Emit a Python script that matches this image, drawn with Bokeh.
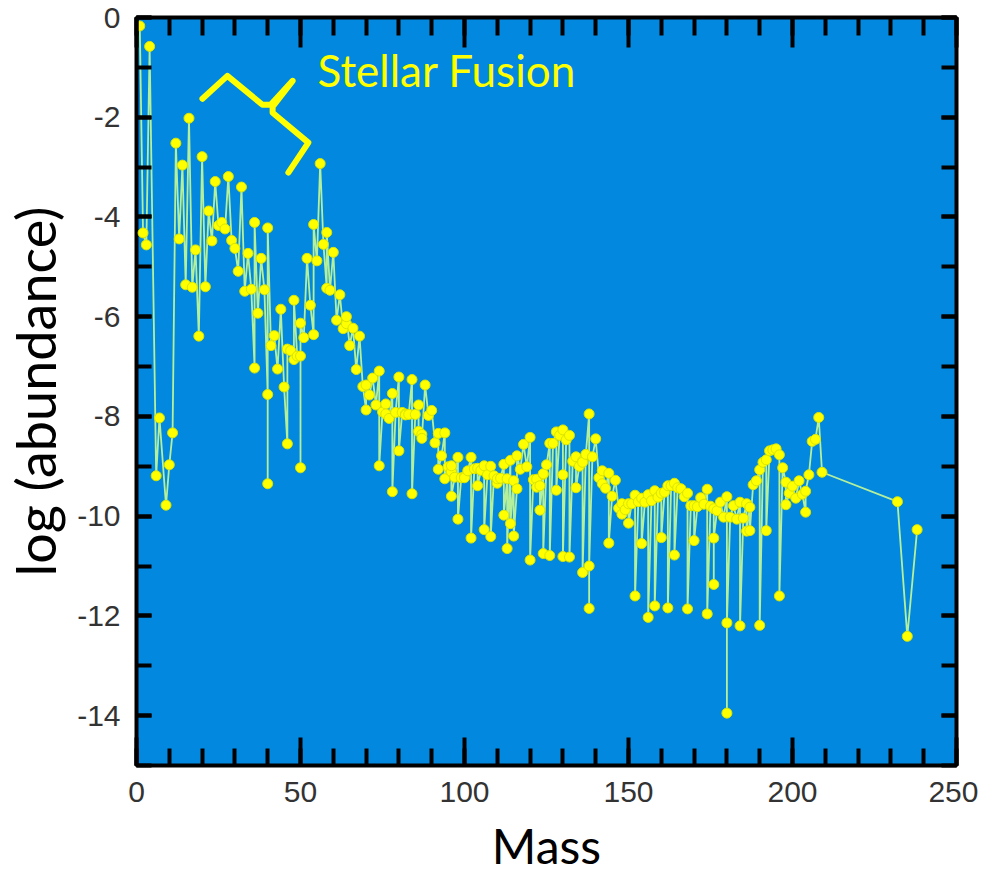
from bokeh.plotting import figure
from bokeh.models import LinearAxis, SingleIntervalTicker, Label, Range1d
from bokeh.embed import file_html
from bokeh.resources import INLINE

# mass number of each isotope (sorted by mass, isobars in element order)
mass = [1, 2, 3, 4, 6, 7, 9, 10, 11, 12, 13, 14, 15, 16, 17, 18, 19, 20, 21, 22,
        23, 24, 25, 26, 27, 28, 29, 30, 31, 32, 33, 34, 35, 36, 36, 37, 38, 39, 40, 40,
        40, 41, 42, 43, 44, 45, 46, 46, 47, 48, 48, 49, 50, 50, 50, 51, 52, 53, 54, 54,
        55, 56, 57, 58, 58, 59, 60, 61, 62, 63, 64, 64, 65, 66, 67, 68, 69, 70, 70, 71,
        72, 73, 74, 74, 75, 76, 76, 77, 78, 78, 79, 80, 80, 81, 82, 82, 83, 84, 84, 85,
        86, 86, 87, 87, 88, 89, 90, 91, 92, 92, 93, 94, 94, 95, 96, 96, 96, 97, 98, 98,
        99, 100, 100, 101, 102, 102, 103, 104, 104, 105, 106, 106, 107, 108, 108, 109, 110, 110, 111, 112,
        112, 113, 113, 114, 114, 115, 115, 116, 116, 117, 118, 119, 120, 120, 121, 122, 122, 123, 123, 124,
        124, 124, 125, 126, 126, 127, 128, 128, 129, 130, 130, 130, 131, 132, 132, 133, 134, 134, 135, 136,
        136, 136, 137, 138, 138, 138, 139, 140, 141, 142, 142, 143, 144, 144, 145, 146, 147, 148, 148, 149,
        150, 150, 151, 152, 152, 153, 154, 154, 155, 156, 156, 157, 158, 158, 159, 160, 160, 161, 162, 162,
        163, 164, 164, 165, 166, 167, 168, 168, 169, 170, 170, 171, 172, 173, 174, 174, 175, 176, 176, 176,
        177, 178, 179, 180, 180, 180, 181, 182, 183, 184, 184, 185, 186, 186, 187, 187, 188, 189, 190, 190,
        191, 192, 192, 193, 194, 195, 196, 196, 197, 198, 198, 199, 200, 201, 202, 203, 204, 204, 205, 206,
        207, 208, 209, 232, 235, 238]

# log10 of the abundance read for each isotope
log_abundance = [-0.17, -4.32, -4.56, -0.58, -9.19, -8.03, -9.78, -8.97, -8.33, -2.52, -4.44, -2.96, -5.36, -2.02, -5.41, -4.66, -6.39, -2.79, -5.40, -3.88,
                 -4.48, -3.29, -4.17, -4.11, -4.24, -3.19, -4.47, -4.63, -5.09, -3.40, -5.49, -4.73, -5.45, -7.03, -4.11, -5.93, -4.83, -5.46, -7.56, -9.35,
                 -4.22, -6.58, -6.38, -7.05, -5.85, -7.41, -8.55, -6.65, -6.68, -6.86, -5.67, -6.79, -6.79, -9.03, -6.13, -6.42, -4.83, -5.77, -6.36, -4.15,
                 -4.88, -2.93, -4.55, -5.43, -4.31, -5.47, -4.71, -6.07, -5.56, -6.24, -6.14, -6.00, -6.58, -6.23, -7.06, -6.39, -7.40, -7.87, -7.37, -7.57,
                 -7.23, -7.77, -7.09, -8.99, -7.91, -7.75, -7.95, -8.04, -7.54, -9.51, -7.92, -7.21, -8.69, -7.92, -7.95, -7.97, -7.96, -7.26, -9.55, -7.96,
                 -7.77, -8.30, -8.36, -8.44, -7.37, -7.98, -7.88, -8.53, -8.34, -9.06, -8.79, -8.33, -9.25, -9.01, -9.11, -8.99, -9.60, -9.22, -8.82, -10.06,
                 -9.23, -9.21, -9.23, -9.09, -8.82, -10.44, -9.05, -9.04, -9.39, -9.08, -8.99, -10.27, -9.17, -9.00, -10.41, -9.19, -9.34, -9.25, -9.24, -8.96,
                 -9.98, -9.25, -10.65, -8.88, -10.15, -9.29, -10.40, -9.45, -8.79, -9.06, -8.56, -9.01, -8.42, -10.88, -9.27, -9.26, -9.42, -9.39, -9.88, -9.16,
                 -9.15, -10.75, -8.97, -8.54, -10.79, -8.54, -8.31, -9.48, -8.38, -8.27, -9.17, -10.81, -8.47, -8.38, -10.82, -8.90, -8.81, -9.43, -9.00, -8.89,
                 -8.92, -11.13, -8.76, -7.95, -11.85, -11.00, -8.81, -8.45, -9.23, -9.35, -9.09, -9.44, -9.14, -10.54, -9.60, -9.28, -9.84, -9.75, -9.96, -9.87,
                 -9.75, -10.14, -9.75, -9.58, -11.60, -9.71, -9.64, -10.55, -9.72, -9.57, -12.03, -9.69, -9.49, -11.80, -9.62, -9.54, -10.43, -9.52, -9.39, -11.84,
                 -9.39, -9.34, -10.78, -9.43, -9.45, -9.61, -9.54, -11.86, -9.79, -9.79, -10.49, -9.81, -9.63, -9.76, -9.46, -11.96, -9.80, -9.85, -11.37, -10.44,
                 -9.89, -9.72, -10.02, -9.61, -13.95, -12.14, -10.02, -9.79, -10.06, -9.72, -12.20, -10.04, -9.75, -10.30, -9.82, -10.29, -9.37, -9.29, -9.07, -12.19,
                 -8.92, -8.87, -10.29, -8.69, -8.67, -8.65, -8.77, -11.60, -9.03, -9.32, -9.77, -9.54, -9.40, -9.64, -9.29, -9.56, -9.92, -9.50, -9.17, -8.50,
                 -8.46, -8.02, -9.12, -9.71, -12.41, -10.27]

# tick labels of the y axis (plain hyphen minus, as in the reference)
y_tick_values = [0, -2, -4, -6, -8, -10, -12, -14]
y_tick_labels = ["0", "-2", "-4", "-6", "-8", "-10", "-12", "-14"]

# hand-drawn brace annotation (data coordinates)
brace_x = [20.1, 27.7, 38.4, 40.9, 47.6, 41.5, 41.5, 52.4, 46.3]
brace_y = [-1.63, -1.17, -1.75, -1.75, -1.27, -1.79, -1.91, -2.51, -3.11]

PLOT_BG = "#0289df"
TICK_FONT = "Liberation Sans"
TEXT_FONT = "Lato"

p = figure(frame_width=820, frame_height=748,
           x_range=Range1d(0, 250), y_range=Range1d(-15, 0),
           output_backend="svg", toolbar_location=None,
           min_border_left=128, min_border_right=22, min_border_top=17, min_border_bottom=60,
           x_axis_location=None, y_axis_location=None)
p.background_fill_color = PLOT_BG
p.border_fill_color = "white"
p.outline_line_color = "black"
p.outline_line_width = 4
p.xgrid.visible = False
p.ygrid.visible = False


def style_axis(ax, tick_major, tick_minor, show_labels):
    ax.axis_line_color = None
    ax.major_tick_in = tick_major
    ax.major_tick_out = 0
    ax.minor_tick_in = tick_minor
    ax.minor_tick_out = 0
    ax.major_tick_line_width = 4
    ax.minor_tick_line_width = 4
    ax.major_tick_line_color = "black"
    ax.minor_tick_line_color = "black"
    if show_labels:
        ax.major_label_text_font = TICK_FONT
        ax.major_label_text_font_size = "30px"
        ax.major_label_text_color = "#333333"
    else:
        ax.major_label_text_color = None
        ax.major_label_text_font_size = "1px"
        ax.major_label_standoff = 0


xb = LinearAxis(ticker=SingleIntervalTicker(interval=50, num_minor_ticks=5))
style_axis(xb, 28, 17, True)
xb.major_label_standoff = 16
xb.axis_label = "Mass"
xb.axis_label_text_font = TEXT_FONT
xb.axis_label_text_font_size = "48px"
xb.axis_label_text_font_style = "normal"
xb.axis_label_text_color = "black"
xb.axis_label_standoff = 12
p.add_layout(xb, "below")

xt = LinearAxis(ticker=SingleIntervalTicker(interval=50, num_minor_ticks=5))
style_axis(xt, 30, 18, False)
p.add_layout(xt, "above")

yl = LinearAxis(ticker=SingleIntervalTicker(interval=2, num_minor_ticks=2))
style_axis(yl, 15, 15, True)
yl.major_label_overrides = dict(zip(y_tick_values, y_tick_labels))
yl.major_label_standoff = 16
yl.axis_label = "log (abundance)"
yl.axis_label_text_font = TEXT_FONT
yl.axis_label_text_font_size = "54px"
yl.axis_label_text_font_style = "normal"
yl.axis_label_text_color = "black"
yl.axis_label_standoff = 6
p.add_layout(yl, "left")

yr = LinearAxis(ticker=SingleIntervalTicker(interval=2, num_minor_ticks=2))
style_axis(yr, 15, 15, False)
p.add_layout(yr, "right")

p.line(mass, log_abundance, line_color="#b4f09c", line_width=1.8)
p.scatter(mass, log_abundance, marker="circle", size=10,
          fill_color="#ffff00", line_color="#d8e400", line_width=1)

p.line(brace_x, brace_y, line_color="#ffff00", line_width=6,
       line_join="round", line_cap="round")

p.add_layout(Label(x=55.2, y=-1.05, text="Stellar Fusion", text_color="#ffff00",
                   text_font=TEXT_FONT, text_font_size="44px",
                   text_baseline="alphabetic", text_align="left"))

open("out.html", "w").write(file_html(p, INLINE))
